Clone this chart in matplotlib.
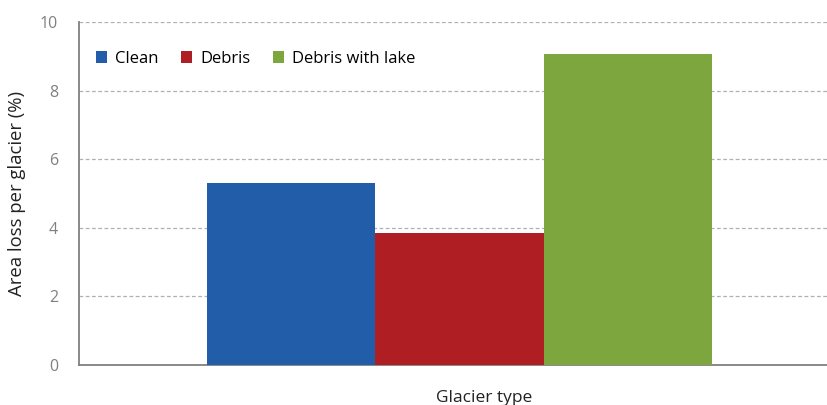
import numpy as np
import matplotlib.pyplot as plt

# values
glacier_types = ['Clean', 'Debris', 'Debris with lake']
area_loss = [5.30, 3.86, 9.06]
bar_colors = ['#215DA8', '#AF1E23', '#7DA63E']
yticks = [0, 2, 4, 6, 8, 10]

plt.rcParams['font.family'] = ['Open Sans', 'DejaVu Sans']

fig = plt.figure(figsize=(8.27, 4.05), dpi=100)
ax = fig.add_axes([0.0955, 0.0988, 0.9045, 0.8469])

offsets = np.arange(len(glacier_types)) - 1
for off, val, col, lab in zip(offsets, area_loss, bar_colors, glacier_types):
    ax.bar(off, val, width=1.0, color=col, label=lab, zorder=3)

ax.set_xlim(-2.26, 2.18)
ax.set_ylim(0, 10)
ax.set_yticks(yticks)
ax.set_xticks([])
ax.yaxis.grid(True, linestyle=(0, (3, 2)), color='#b0b0b0', linewidth=0.9, zorder=0)
ax.tick_params(axis='y', length=0, pad=15, labelsize=11.5, labelcolor='#808080')

for s in ['top', 'right']:
    ax.spines[s].set_visible(False)
for s in ['left', 'bottom']:
    ax.spines[s].set_color('#808080')
    ax.spines[s].set_linewidth(1.3)

ax.set_ylabel('Area loss per glacier (%)', fontsize=13.3, color='#222222', labelpad=10)
ax.set_xlabel('Glacier type', fontsize=12.5, color='#222222')
ax.xaxis.set_label_coords(0.542, -0.072)

ax.legend(loc='upper left', bbox_to_anchor=(0.0, 0.965), ncol=3, frameon=False,
          fontsize=12, handlelength=0.7, handleheight=0.7, handletextpad=0.45,
          columnspacing=1.35, borderaxespad=0.6)

plt.savefig('out.png', dpi=100)
